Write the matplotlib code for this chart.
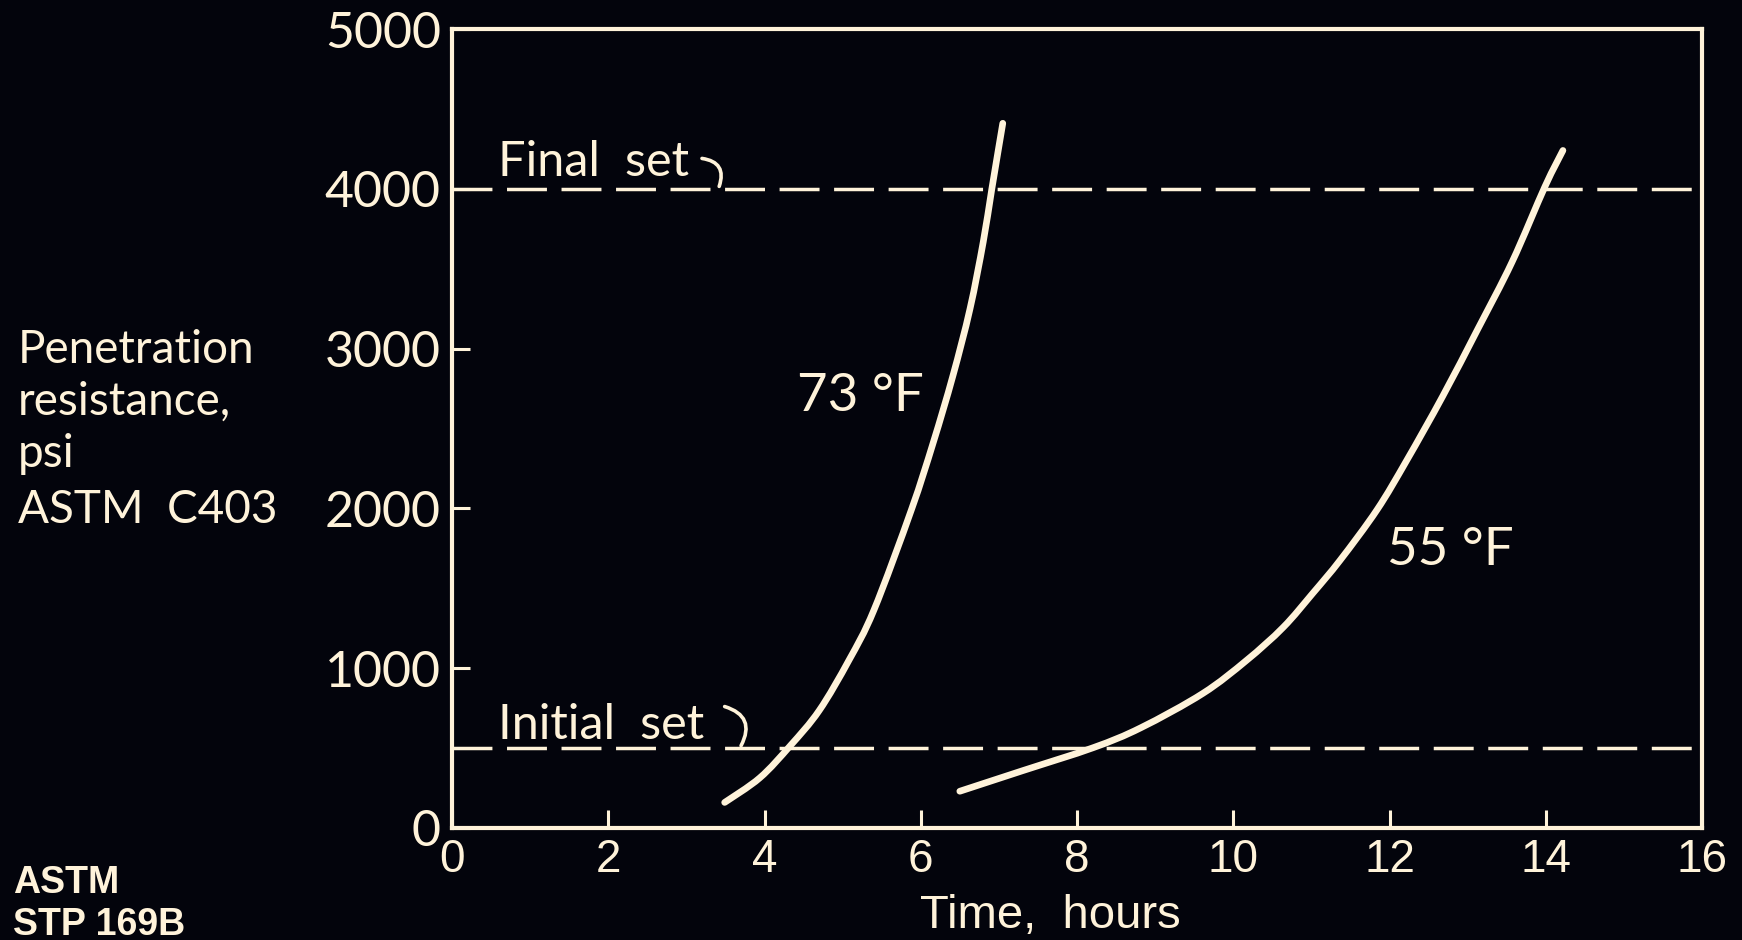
import matplotlib
matplotlib.use("Agg")
import matplotlib.pyplot as plt
from matplotlib import font_manager
from matplotlib.path import Path
from matplotlib.patches import PathPatch

# Penetration resistance (psi) vs. elapsed time (hours), ASTM C403
hours_73 = [3.49, 3.94, 4.33, 4.70, 5.08, 5.40, 5.88, 6.16, 6.41, 6.63, 6.80, 6.91, 7.05]
psi_73 = [160, 314, 515, 735, 1049, 1363, 1991, 2412, 2827, 3248, 3668, 4000, 4410]

hours_55 = [6.50, 7.30, 8.21, 8.82, 9.61, 10.17, 10.64, 11.02, 11.37, 11.84, 12.22,
            12.68, 13.13, 13.57, 13.99, 14.22]
psi_55 = [230, 358, 503, 628, 842, 1049, 1256, 1470, 1677, 1991, 2300,
          2701, 3122, 3543, 4014, 4240]

initial_set_psi = 500
final_set_psi = 4000

x_ticks = [0, 2, 4, 6, 8, 10, 12, 14, 16]
y_ticks = [0, 1000, 2000, 3000, 4000, 5000]
x_tick_labels = ["0", "2", "4", "6", "8", "10", "12", "14", "16"]
y_tick_labels = ["0", "1000", "2000", "3000", "4000", "5000"]


def pick_font(names, fallback):
    for name in names:
        try:
            font_manager.findfont(name, fallback_to_default=False)
            return name
        except Exception:
            pass
    return fallback


ROUND = pick_font(["Lato"], "DejaVu Sans")
NARROW = pick_font(["Liberation Sans Narrow", "Liberation Sans"], "DejaVu Sans")
BOLD = pick_font(["Liberation Sans"], "DejaVu Sans")

BG = "#03040c"
FG = "#fff3da"


def smooth_path(xs, ys):
    """Cubic Bezier path passing through every given point (Catmull-Rom tangents)."""
    pts = list(zip(xs, ys))
    verts = [pts[0]]
    codes = [Path.MOVETO]
    n = len(pts)
    for i in range(n - 1):
        p0 = pts[i - 1] if i > 0 else pts[i]
        p1 = pts[i]
        p2 = pts[i + 1]
        p3 = pts[i + 2] if i + 2 < n else pts[i + 1]
        c1 = (p1[0] + (p2[0] - p0[0]) / 6, p1[1] + (p2[1] - p0[1]) / 6)
        c2 = (p2[0] - (p3[0] - p1[0]) / 6, p2[1] - (p3[1] - p1[1]) / 6)
        verts += [c1, c2, p2]
        codes += [Path.CURVE4] * 3
    return Path(verts, codes)


W, H = 1742, 940
fig = plt.figure(figsize=(W / 100, H / 100), dpi=100, facecolor=BG)
ax = fig.add_axes([452 / W, 1 - 828 / H, 1250 / W, 799 / H], facecolor=BG)

ax.set_xlim(0, 16)
ax.set_ylim(0, 5000)

for side in ["left", "right", "top", "bottom"]:
    ax.spines[side].set_color(FG)
    ax.spines[side].set_linewidth(3.0)

ax.set_xticks(x_ticks)
ax.set_xticklabels(x_tick_labels)
ax.set_yticks(y_ticks)
ax.set_yticklabels(y_tick_labels)
ax.tick_params(axis="both", direction="in", length=13, width=2.2, color=FG,
               colors=FG)
ax.tick_params(axis="x", pad=7, labelsize=33)
ax.tick_params(axis="y", pad=8, labelsize=36)
for lab in ax.get_xticklabels():
    lab.set_fontfamily(NARROW)
for lab in ax.get_yticklabels():
    lab.set_fontfamily(ROUND)

# set-time reference lines
for level in (initial_set_psi, final_set_psi):
    ax.axhline(level, color=FG, lw=2.5, dashes=(11.5, 4.2), zorder=2)

# setting curves
for hx, py in ((hours_73, psi_73), (hours_55, psi_55)):
    ax.add_patch(PathPatch(smooth_path(hx, py), facecolor="none", edgecolor=FG,
                           lw=4.8, capstyle="round", joinstyle="round",
                           zorder=3))

# labels on the plot
ax.text(0.59, final_set_psi + 77, "Final  set", color=FG, fontsize=35,
        fontfamily=ROUND, ha="left", va="baseline")
ax.text(0.59, initial_set_psi + 60, "Initial  set", color=FG, fontsize=35,
        fontfamily=ROUND, ha="left", va="baseline")
for x0, y0, x1, y1 in ((3.20, 4190, 3.42, final_set_psi + 15),
                       (3.49, 760, 3.70, initial_set_psi + 15)):
    ax.annotate("", xy=(x1, y1), xytext=(x0, y0),
                arrowprops=dict(arrowstyle="-", color=FG, lw=2.6,
                                connectionstyle="arc3,rad=-0.6",
                                shrinkA=0, shrinkB=0))

ax.text(4.42, 2607, "73 °F", color=FG, fontsize=38, fontfamily=ROUND,
        ha="left", va="baseline")
ax.text(11.97, 1646, "55 °F", color=FG, fontsize=38, fontfamily=ROUND,
        ha="left", va="baseline")

# axis titles and source note
for text, base in (("Penetration", 363), ("resistance,", 415),
                   ("psi", 467), ("ASTM  C403", 523)):
    fig.text(18 / W, 1 - base / H, text, color=FG, fontsize=33,
             fontfamily=ROUND, ha="left", va="baseline")

fig.text(920 / W, 1 - 928 / H, "Time,  hours", color=FG, fontsize=34,
         fontfamily=NARROW, ha="left", va="baseline")

fig.text(13 / W, 1 - 893 / H, "ASTM", color=FG, fontsize=27,
         fontfamily=BOLD, fontweight="bold", ha="left", va="baseline")
fig.text(13 / W, 1 - 935 / H, "STP 169B", color=FG, fontsize=27,
         fontfamily=BOLD, fontweight="bold", ha="left", va="baseline")

fig.savefig("out.png", dpi=100, facecolor=BG)
